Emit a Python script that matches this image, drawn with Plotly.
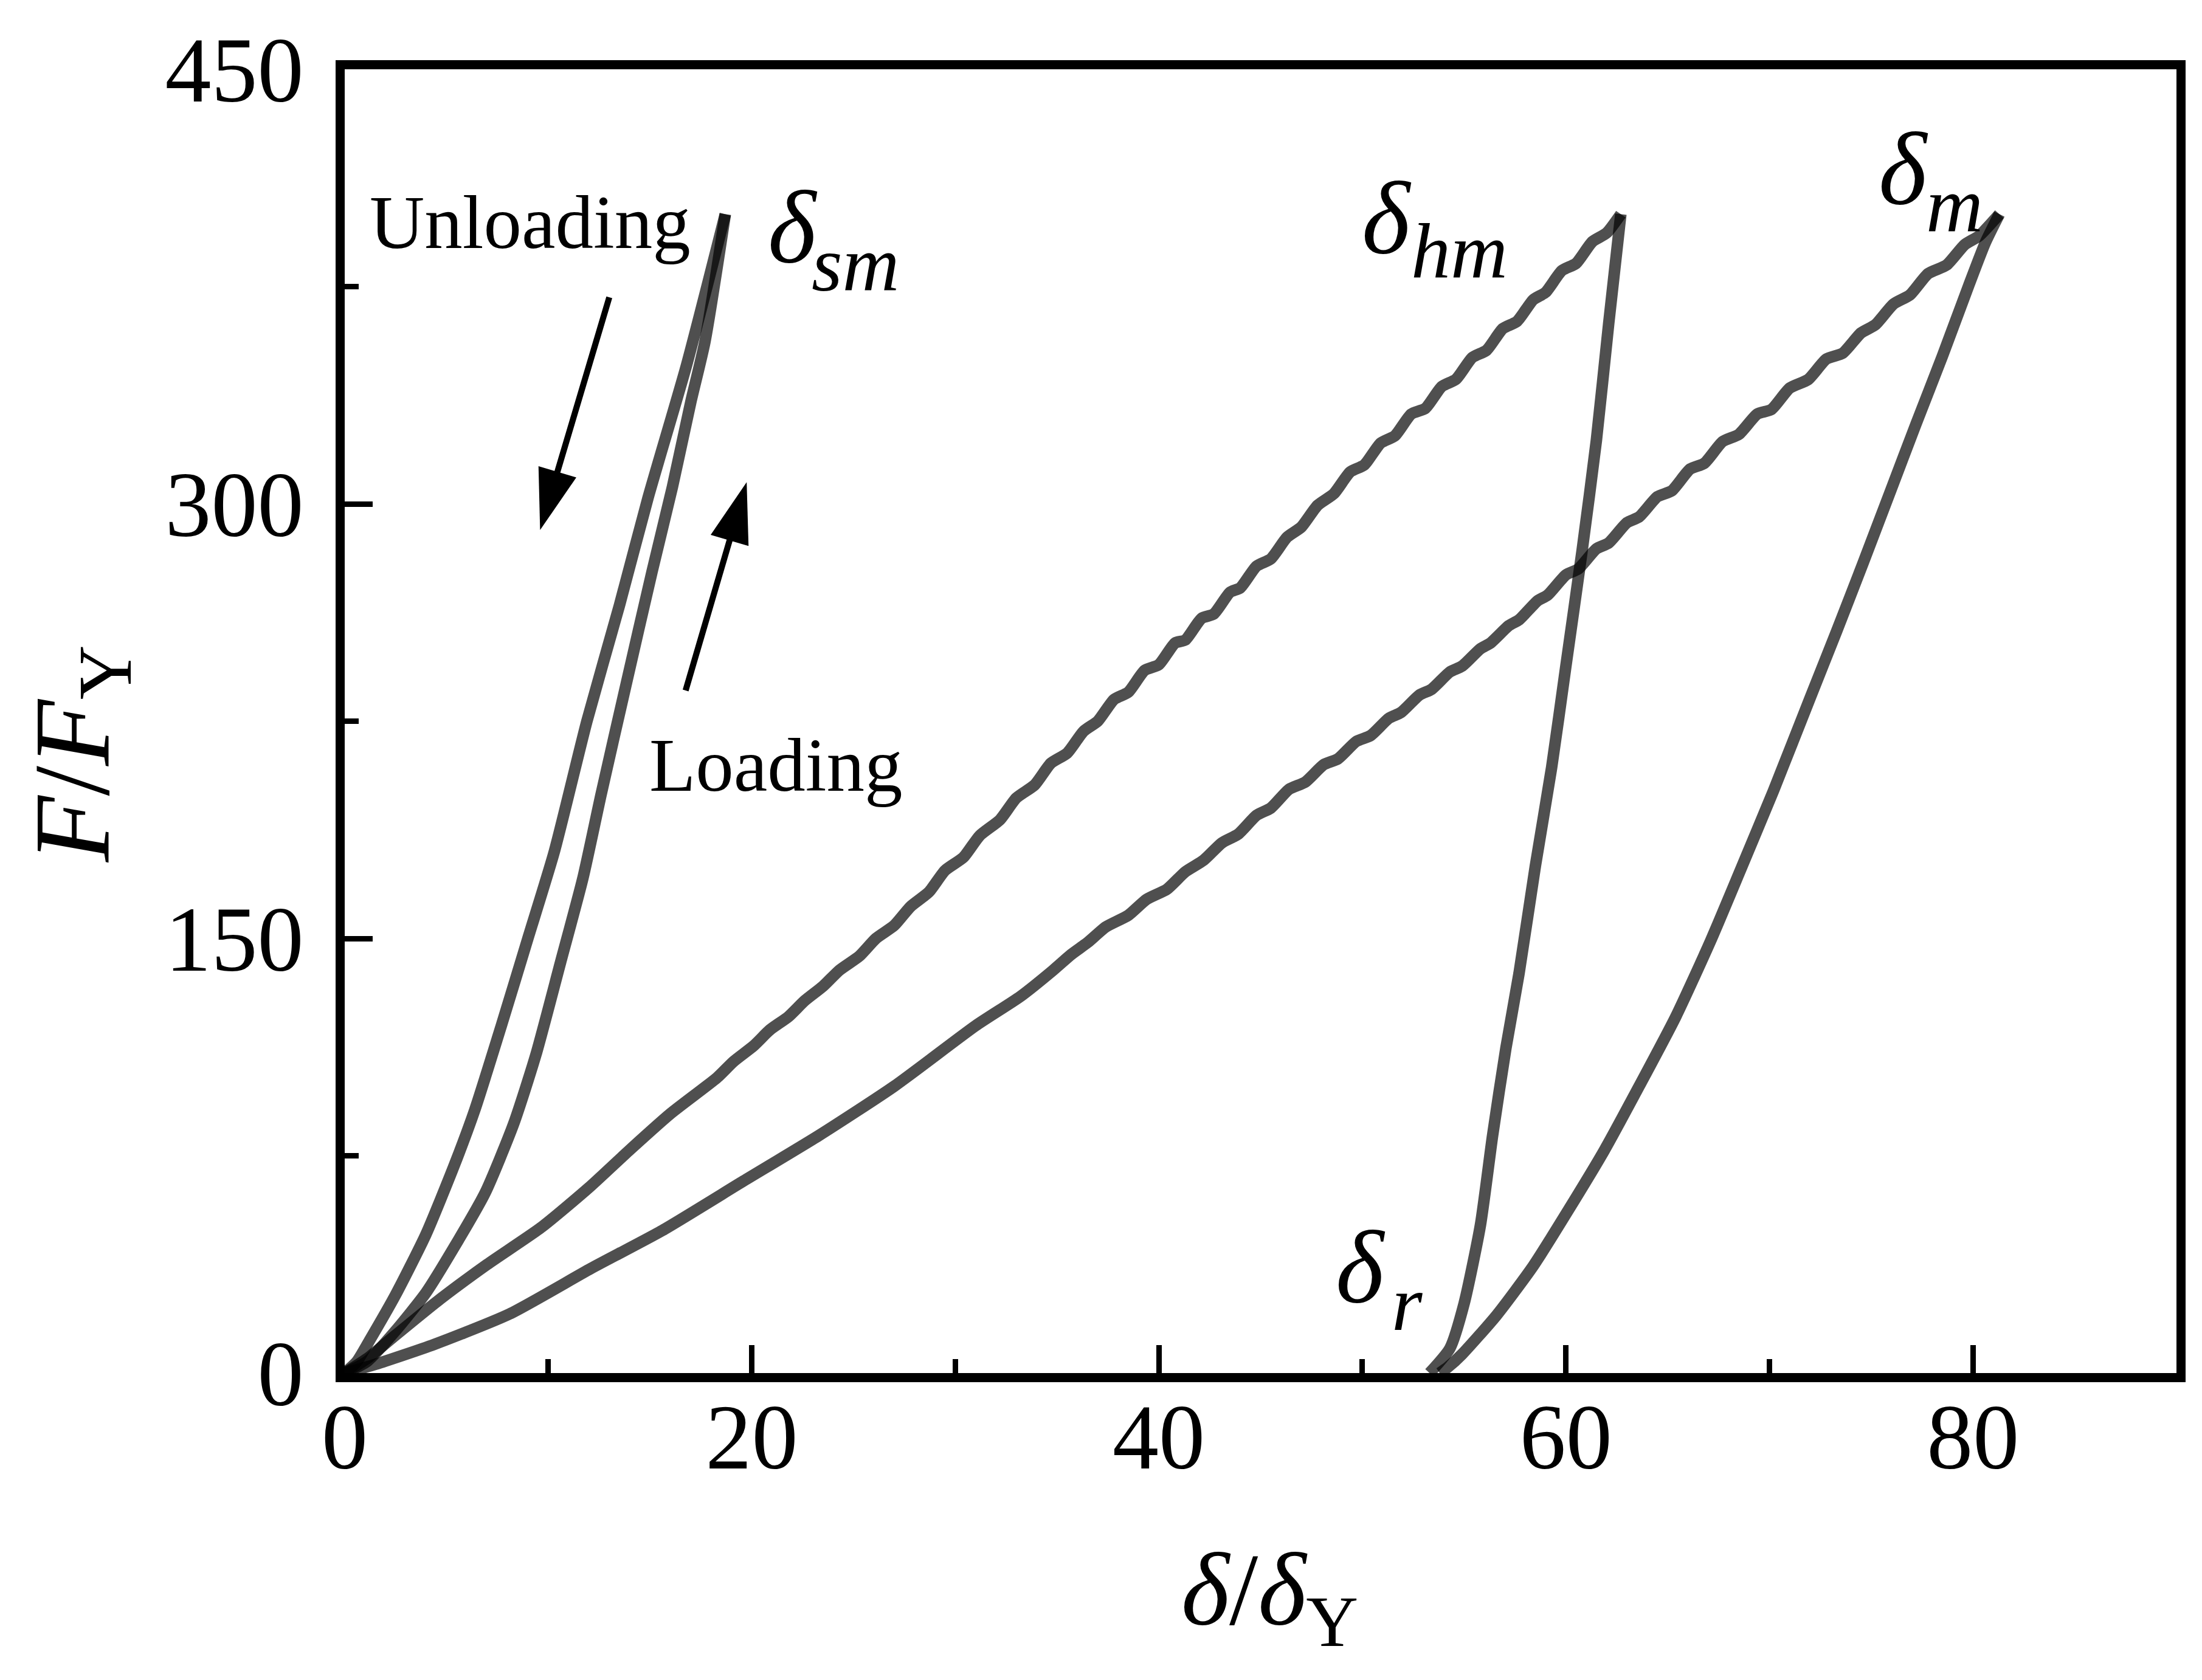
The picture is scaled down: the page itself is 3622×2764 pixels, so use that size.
import plotly.graph_objects as go

# delta_sm branch (two curves from origin to the small peak)
sm_unload_x = [0, 0.6, 1.2, 2.5, 4.0, 5.4, 6.4, 7.7, 9.0, 10.3, 11.9, 13.5, 14.9, 16.8, 18.7]
sm_unload_y = [0, 4, 11, 27, 48, 72, 91, 120, 150, 180, 225, 265, 302, 348, 400]
sm_load_x = [0, 1.1, 2.5, 4.0, 5.4, 6.9, 8.3, 9.4, 10.6, 11.7, 12.6, 13.8, 15.1, 16.1, 17.0, 17.7, 18.7]
sm_load_y = [0, 4, 14.6, 27.8, 43.7, 62.2, 86, 110, 141.6, 170.7, 199.8, 236.9, 276.6, 305.8, 335, 356, 400]

# delta_hm branch: wavy loading, then unloading to delta_r
hm_load_x = [0, 1.2, 2.4, 4.7, 7.0, 9.7, 12.0, 14.0, 16.0,
             18.3, 19.1, 20.1, 20.9, 21.8, 22.6, 23.5, 24.3, 25.3, 26.1, 27.0, 27.8,
             28.7, 29.5, 30.4, 31.2, 32.2, 33.0, 33.9, 34.7, 35.5, 36.3, 37.0, 37.8,
             38.5, 39.3, 40.0, 40.8, 41.3, 42.1, 42.7, 43.5, 44.0, 44.8, 45.5, 46.3,
             47.0, 47.8, 48.6, 49.4, 50.1, 50.9, 51.6, 52.4, 53.1, 53.9, 54.6, 55.4,
             56.1, 56.9, 57.6, 58.4, 59.0, 59.8, 60.5, 61.3, 62.0, 62.7]
hm_load_y = [0, 5.5, 12.5, 25.6, 37.5, 50.5, 64, 77, 89.5,
             102, 107.5, 113, 118.5, 123, 128.5, 133.5, 139, 144, 150, 154.5, 161,
             166, 173.5, 178, 185.5, 191, 198.5, 203, 210.5, 214, 221.5, 225, 232.5,
             235, 242.5, 244.5, 252, 253, 260.5, 262, 269.5, 271, 278.5, 281, 288.5,
             292, 299.5, 303.5, 311, 313.5, 321, 323.5, 331, 333, 340.5, 343, 350.5,
             353, 360.5, 363, 370.5, 373, 380.5, 383, 390.5, 393.5, 400]
hm_unload_x = [62.7, 62.1, 61.5, 60.8, 60.0, 59.3, 58.5, 57.7, 57.05, 56.4, 55.8, 55.0, 54.3, 53.3]
hm_unload_y = [400, 362, 322, 284, 244, 209, 175, 138, 112, 82, 51, 24, 8.5, 0]

# delta_m branch: wavy loading to the largest peak, then unloading
m_load_x = [0, 1.5, 4.4, 8.1, 12.1, 15.6, 19.6, 23.3, 27.0, 31.0, 33.2,
            34.8, 35.7, 36.5, 37.4, 38.5, 39.4, 40.4, 41.3, 42.2, 43.1, 43.9, 44.8,
            45.5, 46.4, 47.2, 48.1, 48.8, 49.7, 50.4, 51.3, 51.9, 52.8, 53.4, 54.3,
            54.9, 55.8, 56.3, 57.2, 57.7, 58.6, 59.1, 60.0, 60.6, 61.5, 62.1, 63.0,
            63.6, 64.5, 65.2, 66.1, 66.8, 67.7, 68.5, 69.4, 70.1, 71.0, 71.9, 72.8,
            73.6, 74.5, 75.2, 76.1, 76.9, 77.8, 78.7, 79.6, 80.3, 81.3]
m_load_y = [0, 3, 9.9, 20.4, 36.1, 49.2, 66.3, 82.0, 99.0, 119.9, 130,
            139, 144.5, 148.6, 154, 158, 163.5, 167, 173, 177, 183, 186, 192.5,
            195, 201.5, 204, 210, 212, 218, 220, 226, 228, 234, 236, 242,
            244, 250, 252, 258, 260, 266.5, 268.5, 275.5, 277.5, 284.5, 286.5, 293.5,
            295.5, 302.5, 304.5, 312, 314, 321.5, 324, 331, 332.6, 340, 342.9, 350,
            352, 359, 361.8, 369, 372.1, 379.5, 382.4, 389.5, 392.5, 400]
m_unload_x = [81.3, 80.6, 79.8, 78.5, 77.2, 75.9, 74.6, 73.3, 72.0, 70.2, 68.6, 67.1, 65.4,
              63.6, 61.9, 60.1, 58.4, 56.6, 54.9, 54.2, 53.8]
m_unload_y = [400, 390, 375.5, 351, 327.5, 303.5, 279.5, 256, 233, 201, 174, 149, 123,
              99, 77, 56, 37, 20, 6.5, 2, 0]

# arrows (tail, head)
unload_arrow_x = [13.0, 9.6]
unload_arrow_y = [371.3, 291]
load_arrow_x = [16.75, 19.75]
load_arrow_y = [235.6, 307.5]

FONT = "Liberation Serif"
curve_color = "rgba(0,0,0,0.69)"

fig = go.Figure()

for xs, ys in [(sm_unload_x, sm_unload_y), (sm_load_x, sm_load_y),
               (hm_load_x, hm_load_y), (hm_unload_x, hm_unload_y),
               (m_load_x, m_load_y), (m_unload_x, m_unload_y)]:
    fig.add_trace(go.Scatter(
        x=xs, y=ys, mode="lines",
        line=dict(color=curve_color, width=19, shape="spline", smoothing=0.6),
        showlegend=False, hoverinfo="skip",
    ))

for xs, ys in [(unload_arrow_x, unload_arrow_y), (load_arrow_x, load_arrow_y)]:
    fig.add_trace(go.Scatter(
        x=xs, y=ys, mode="lines+markers",
        line=dict(color="#000000", width=10),
        marker=dict(symbol="arrow", size=[0, 105], color="#000000", opacity=1,
                    angleref="previous", line=dict(width=0)),
        opacity=1,
        showlegend=False, hoverinfo="skip",
    ))

annotations = [
    dict(x=9.12, y=397.1, text="Unloading", size=125),
    dict(x=21.19, y=209.7, text="Loading", size=125),
    dict(x=22.0, y=395.5, text="<i>δ</i>", size=170),
    dict(x=25.1, y=382.9, text="<i>sm</i>", size=130),
    dict(x=51.2, y=398.5, text="<i>δ</i>", size=170),
    dict(x=54.77, y=387.2, text="<i>hm</i>", size=130),
    dict(x=76.6, y=415.5, text="<i>δ</i>", size=170),
    dict(x=79.1, y=403.2, text="<i>m</i>", size=130),
    dict(x=49.9, y=36.5, text="<i>δ</i>", size=170),
    dict(x=52.2, y=24.1, text="<i>r</i>", size=130),
]
for a in annotations:
    fig.add_annotation(x=a["x"], y=a["y"], xref="x", yref="y", text=a["text"],
                       showarrow=False, xanchor="center", yanchor="middle",
                       font=dict(family=FONT, size=a["size"], color="black"))

# axis titles
fig.add_annotation(x=0.505, y=-0.172, xref="paper", yref="paper",
                   text="<i>δ</i>/<i>δ</i><sub>Y</sub>", showarrow=False,
                   xanchor="center", yanchor="middle",
                   font=dict(family=FONT, size=170, color="black"))
fig.add_annotation(x=-0.145, y=0.475, xref="paper", yref="paper",
                   text="<i>F</i>/<i>F</i><sub>Y</sub>", showarrow=False, textangle=-90,
                   xanchor="center", yanchor="middle",
                   font=dict(family=FONT, size=178, color="black"))

axis_common = dict(
    showline=True, linecolor="black", linewidth=15, mirror=True,
    showgrid=False, zeroline=False,
    ticks="inside", ticklen=46, tickwidth=9, tickcolor="black",
    tickfont=dict(family=FONT, size=152, color="black"),
)
fig.update_xaxes(range=[0, 90], tickvals=[0, 20, 40, 60, 80], ticklabelstandoff=-40,
                 minor=dict(ticks="inside", ticklen=23, tickwidth=9, tickcolor="black", dtick=10, tick0=0),
                 **axis_common)
fig.update_yaxes(range=[0, 450], tickvals=[0, 150, 300, 450], ticklabelstandoff=22,
                 minor=dict(ticks="inside", ticklen=23, tickwidth=9, tickcolor="black", dtick=75, tick0=0),
                 **axis_common)

fig.update_layout(
    width=3622, height=2764,
    margin=dict(l=559, r=50, t=106, b=513),
    paper_bgcolor="white", plot_bgcolor="white",
    font=dict(family=FONT, color="black"),
)

fig.write_html("out.html")
